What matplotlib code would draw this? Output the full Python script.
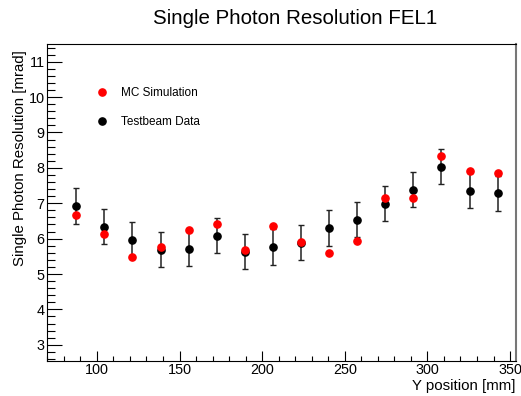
import numpy as np
import matplotlib
matplotlib.use('Agg')
import matplotlib.pyplot as plt
from matplotlib.lines import Line2D
from matplotlib.ticker import MultipleLocator

plt.rcParams['font.family'] = ['Liberation Sans', 'DejaVu Sans']

# Y position [mm] of each scan point
y_pos = [87.5, 104.5, 121.5, 138.5, 155.5, 172.5, 189.5, 206.5,
         223.5, 240.5, 257.5, 274.5, 291.5, 308.5, 325.5, 342.5]
# MC simulation resolution [mrad]
mc_res = [6.66, 6.14, 5.48, 5.77, 6.24, 6.42, 5.69, 6.37,
          5.90, 5.60, 5.93, 7.16, 7.14, 8.34, 7.90, 7.86]
# testbeam data resolution [mrad] and its error
data_res = [6.92, 6.34, 5.97, 5.69, 5.72, 6.08, 5.63, 5.76,
            5.89, 6.30, 6.54, 6.99, 7.38, 8.03, 7.36, 7.28]
data_err = [0.50, 0.50, 0.50, 0.50, 0.50, 0.50, 0.50, 0.50,
            0.50, 0.50, 0.50, 0.50, 0.50, 0.50, 0.50, 0.50]

fig = plt.figure(figsize=(5.21, 3.96), dpi=100)
ax = fig.add_axes([0.0908, 0.0891, 0.8996, 0.7998])

ax.errorbar(y_pos, data_res, yerr=data_err, fmt='o', color='black',
            ecolor='#222222', elinewidth=1.1, capsize=2.2, capthick=1.0,
            markersize=5.2, zorder=2)
ax.plot(y_pos, mc_res, 'o', color='red', markersize=5.2, zorder=3)

ax.set_xlim(70, 353.6)
ax.set_ylim(2.55, 11.5)

ax.xaxis.set_major_locator(MultipleLocator(50))
ax.xaxis.set_minor_locator(MultipleLocator(10))
ax.yaxis.set_major_locator(MultipleLocator(1))
ax.yaxis.set_minor_locator(MultipleLocator(0.2))

ax.tick_params(axis='both', which='both', direction='in', labelsize=10.4,
               top=False, right=False, width=0.8)
ax.tick_params(axis='y', which='major', length=10.8, pad=2)
ax.tick_params(axis='y', which='minor', length=5.4)
ax.tick_params(axis='x', which='major', length=7.2, pad=2)
ax.tick_params(axis='x', which='minor', length=3.6)

for side in ['left', 'bottom', 'top']:
    ax.spines[side].set_linewidth(0.8)
ax.spines['right'].set_color('#777777')
ax.spines['right'].set_linewidth(1.5)

ax.set_xlabel('Y position [mm]', fontsize=10.8, loc='right', labelpad=1)
ax.set_ylabel('Single Photon Resolution [mrad]', fontsize=10.8, loc='top', labelpad=1)
ax.yaxis.label.set_position((0, 0.98))

fig.text(0.566, 0.953, 'Single Photon Resolution FEL1', fontsize=14.8,
         ha='center', va='center')

legend_handles = [
    Line2D([], [], ls='none', marker='o', color='red', markersize=5.2),
    Line2D([], [], ls='none', marker='o', color='black', markersize=5.2),
]
ax.legend(legend_handles, ['MC Simulation', 'Testbeam Data'], loc='upper left',
          bbox_to_anchor=(0.095, 0.878), frameon=False, fontsize=8.5,
          numpoints=1, handlelength=1.0, handletextpad=1.1,
          labelspacing=1.45, borderaxespad=0)

fig.savefig('out.png', dpi=100)
